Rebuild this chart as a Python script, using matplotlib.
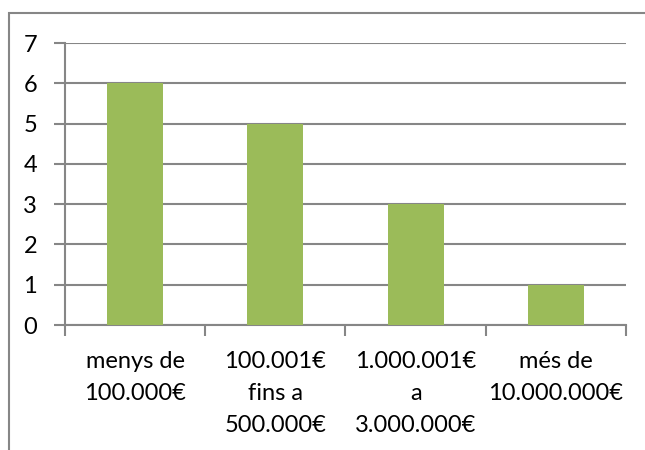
import matplotlib
matplotlib.use("Agg")
import matplotlib.pyplot as plt
from matplotlib.patches import Rectangle

categories = ["menys de\n100.000€", "100.001€\nfins a\n500.000€", "1.000.001€\na\n3.000.000€", "més de\n10.000.000€"]
values = [6, 5, 3, 1]
yticks = [0, 1, 2, 3, 4, 5, 6, 7]

W, H = 645, 450
fig = plt.figure(figsize=(W/100, H/100), dpi=100)
plt.rcParams['font.family'] = ['Lato', 'DejaVu Sans']
gray = '#868686'

ax = fig.add_axes([65/W, 1-325/H, (626-65)/W, (325-43)/H])
x = list(range(len(categories)))
ax.bar(x, values, width=0.4, color='#9BBB59', zorder=3)
ax.set_xlim(-0.5, len(categories)-0.5)
ax.set_ylim(0, 7)
ax.set_yticks(yticks)
ax.set_yticklabels([str(v) for v in yticks], fontsize=17)
ax.yaxis.grid(True, color=gray, linewidth=1.5, zorder=0)
ax.set_axisbelow(True)

ax.set_xticks(x)
ax.set_xticklabels(categories, fontsize=17, linespacing=1.65, va='top')
ax.set_xticks([i - 0.5 for i in range(len(categories)+1)], minor=True)
ax.tick_params(axis='x', which='major', length=0, pad=19)
ax.tick_params(axis='x', which='minor', length=8, width=1.5, color=gray, direction='out')
ax.tick_params(axis='y', length=8, width=1.5, color=gray, direction='out', pad=12)

for s in ['top', 'right']:
    ax.spines[s].set_visible(False)
for s in ['left', 'bottom']:
    ax.spines[s].set_color(gray)
    ax.spines[s].set_linewidth(1.5)

# outer chart frame (extends beyond visible area on right/bottom)
top = 1 - 13/H
fig.patches.append(Rectangle((9/W, -0.1), 1.2, top + 0.1,
                             transform=fig.transFigure, fill=False,
                             edgecolor=gray, linewidth=1.5, figure=fig))

fig.savefig("out.png", dpi=100)
